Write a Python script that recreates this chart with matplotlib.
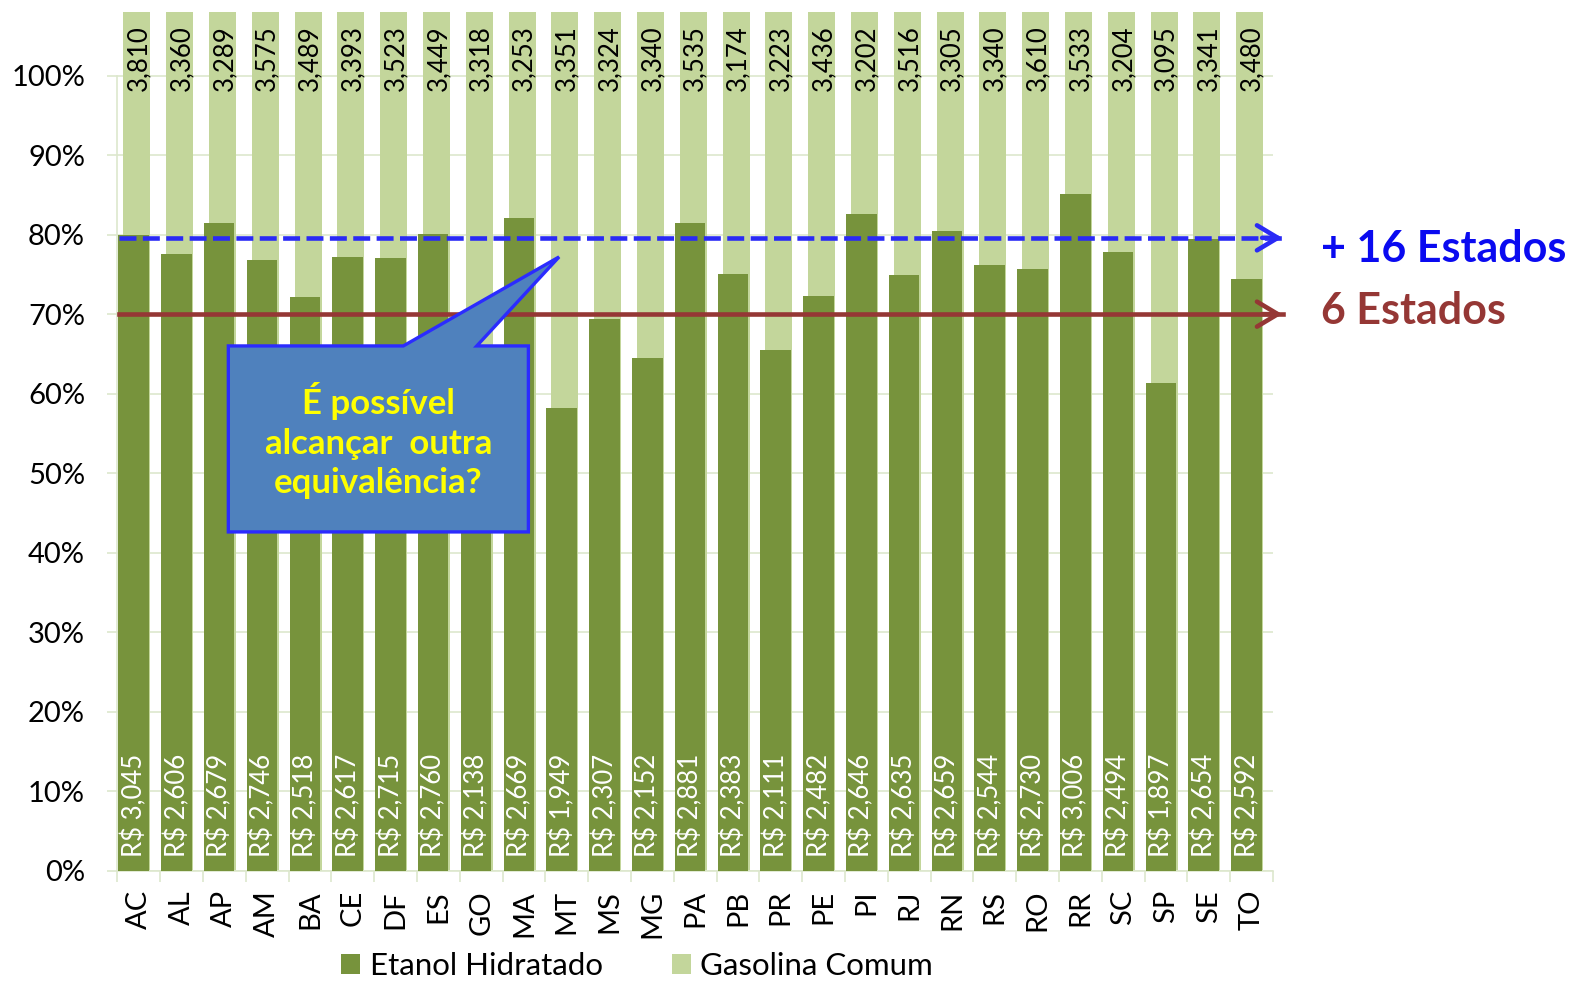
import matplotlib
matplotlib.use("Agg")
import matplotlib.pyplot as plt
import numpy as np
from matplotlib.patches import Polygon, Patch

plt.rcParams['font.family'] = ['Lato', 'DejaVu Sans']

estados = ['AC', 'AL', 'AP', 'AM', 'BA', 'CE', 'DF', 'ES', 'GO', 'MA', 'MT', 'MS', 'MG', 'PA',
           'PB', 'PR', 'PE', 'PI', 'RJ', 'RN', 'RS', 'RO', 'RR', 'SC', 'SP', 'SE', 'TO']
gasolina = [3.810, 3.360, 3.289, 3.575, 3.489, 3.393, 3.523, 3.449, 3.318, 3.253, 3.351, 3.324,
            3.340, 3.535, 3.174, 3.223, 3.436, 3.202, 3.516, 3.305, 3.340, 3.610, 3.533, 3.204,
            3.095, 3.341, 3.480]
etanol = [3.045, 2.606, 2.679, 2.746, 2.518, 2.617, 2.715, 2.760, 2.138, 2.669, 1.949, 2.307,
          2.152, 2.881, 2.383, 2.111, 2.482, 2.646, 2.635, 2.659, 2.544, 2.730, 3.006, 2.494,
          1.897, 2.654, 2.592]
yticks = [0, 0.1, 0.2, 0.3, 0.4, 0.5, 0.6, 0.7, 0.8, 0.9, 1.0]
linha_16 = 0.796
linha_6 = 0.70

DARK = '#77933C'
LIGHT = '#C3D69B'
GRID = '#DDE7CD'
BLUE = '#2A2AF5'
RED = '#953735'

ratio = np.array(etanol) / np.array(gasolina)
n = len(estados)
x = np.arange(n)

fig = plt.figure(figsize=(15.73, 9.83), dpi=100)
ax = fig.add_axes([0.0746, 0.1144, 0.7347, 0.8733])

ax.bar(x - 0.044, ratio + 1.0, width=0.63, color=LIGHT, zorder=2)
ax.bar(x - 0.12, ratio, width=0.713, color=DARK, zorder=3)

ax.set_xlim(-0.5, n - 0.5)
ax.set_ylim(0, 1.08)
ax.set_yticks(yticks)
ax.set_yticklabels([f"{int(round(t*100))}%" for t in yticks], fontsize=21, color='black')
ax.yaxis.grid(True, color=GRID, lw=1.2, zorder=0)
ax.set_axisbelow(True)
ax.tick_params(axis='y', length=7.2, color=GRID, width=1.2, pad=16)

ax.set_xticks(x)
ax.set_xticklabels(estados, rotation=90, fontsize=21, color='black')
ax.tick_params(axis='x', which='major', length=0, pad=14)
ax.set_xticks(np.arange(n + 1) - 0.5, minor=True)
ax.tick_params(axis='x', which='minor', length=8, color=GRID, width=1.2)

for s in ['top', 'right']:
    ax.spines[s].set_visible(False)
for s in ['left', 'bottom']:
    ax.spines[s].set_color(GRID)
    ax.spines[s].set_linewidth(1.2)
ax.spines['left'].set_bounds(0, 1.0)

for i in range(n):
    ax.text(x[i], 1.063, f"{gasolina[i]:.3f}".replace('.', ','), rotation=90,
            ha='center', va='top', fontsize=18.5, color='black', zorder=5)
    ax.text(x[i] - 0.11, 0.0166, "R$ " + f"{etanol[i]:.3f}".replace('.', ','), rotation=90,
            ha='center', va='bottom', fontsize=18.5, color='white', zorder=5)

# reference lines with arrow heads
x0, x1 = -0.47, 26.78
ax.plot([x0, x1 - 0.05], [linha_16, linha_16], color=BLUE, lw=3.3,
        linestyle=(0, (3.7, 1.4)), clip_on=False, zorder=6)
ax.plot([x0, x1 - 0.05], [linha_6, linha_6], color=RED, lw=3.3, clip_on=False, zorder=6)
for yv, c in [(linha_16, BLUE), (linha_6, RED)]:
    ax.annotate('', xy=(x1, yv), xytext=(x1 - 0.6, yv),
                arrowprops=dict(arrowstyle='->,head_length=0.75,head_width=0.45',
                                color=c, lw=3.3, mutation_scale=20),
                annotation_clip=False, zorder=6)

fig.text(0.8398, 0.7335, '+ 16 Estados', color='#0A0AF0', fontsize=31, fontweight='bold',
         ha='left', va='baseline')
fig.text(0.8398, 0.6704, '6 Estados', color=RED, fontsize=31, fontweight='bold',
         ha='left', va='baseline')

# callout
bx0, bx1, by0, by1 = 2.093, 9.103, 0.426, 0.660
callout = Polygon([(bx0, by0), (bx0, by1), (6.182, by1), (9.82, 0.772), (7.897, by1),
                   (bx1, by1), (bx1, by0)], closed=True, facecolor='#4F81BD',
                  edgecolor='#2B2BFF', lw=2.4, zorder=8, joinstyle='miter')
ax.add_patch(callout)
ax.text((bx0 + bx1) / 2, 0.541, 'É possível\nalcançar  outra\nequivalência?', ha='center',
        va='center', fontsize=25, fontweight='bold', color='#FFFF00', linespacing=1.3, zorder=9)

handles = [Patch(facecolor=DARK, edgecolor='none'), Patch(facecolor=LIGHT, edgecolor='none')]
fig.legend(handles, ['Etanol Hidratado', 'Gasolina Comum'], loc='center',
           bbox_to_anchor=(0.405, 0.0175), ncol=2, frameon=False, fontsize=22.5,
           handlelength=0.62, handleheight=0.62, handletextpad=0.3, columnspacing=2.2,
           borderpad=0.1)

fig.savefig('out.png', dpi=100)
